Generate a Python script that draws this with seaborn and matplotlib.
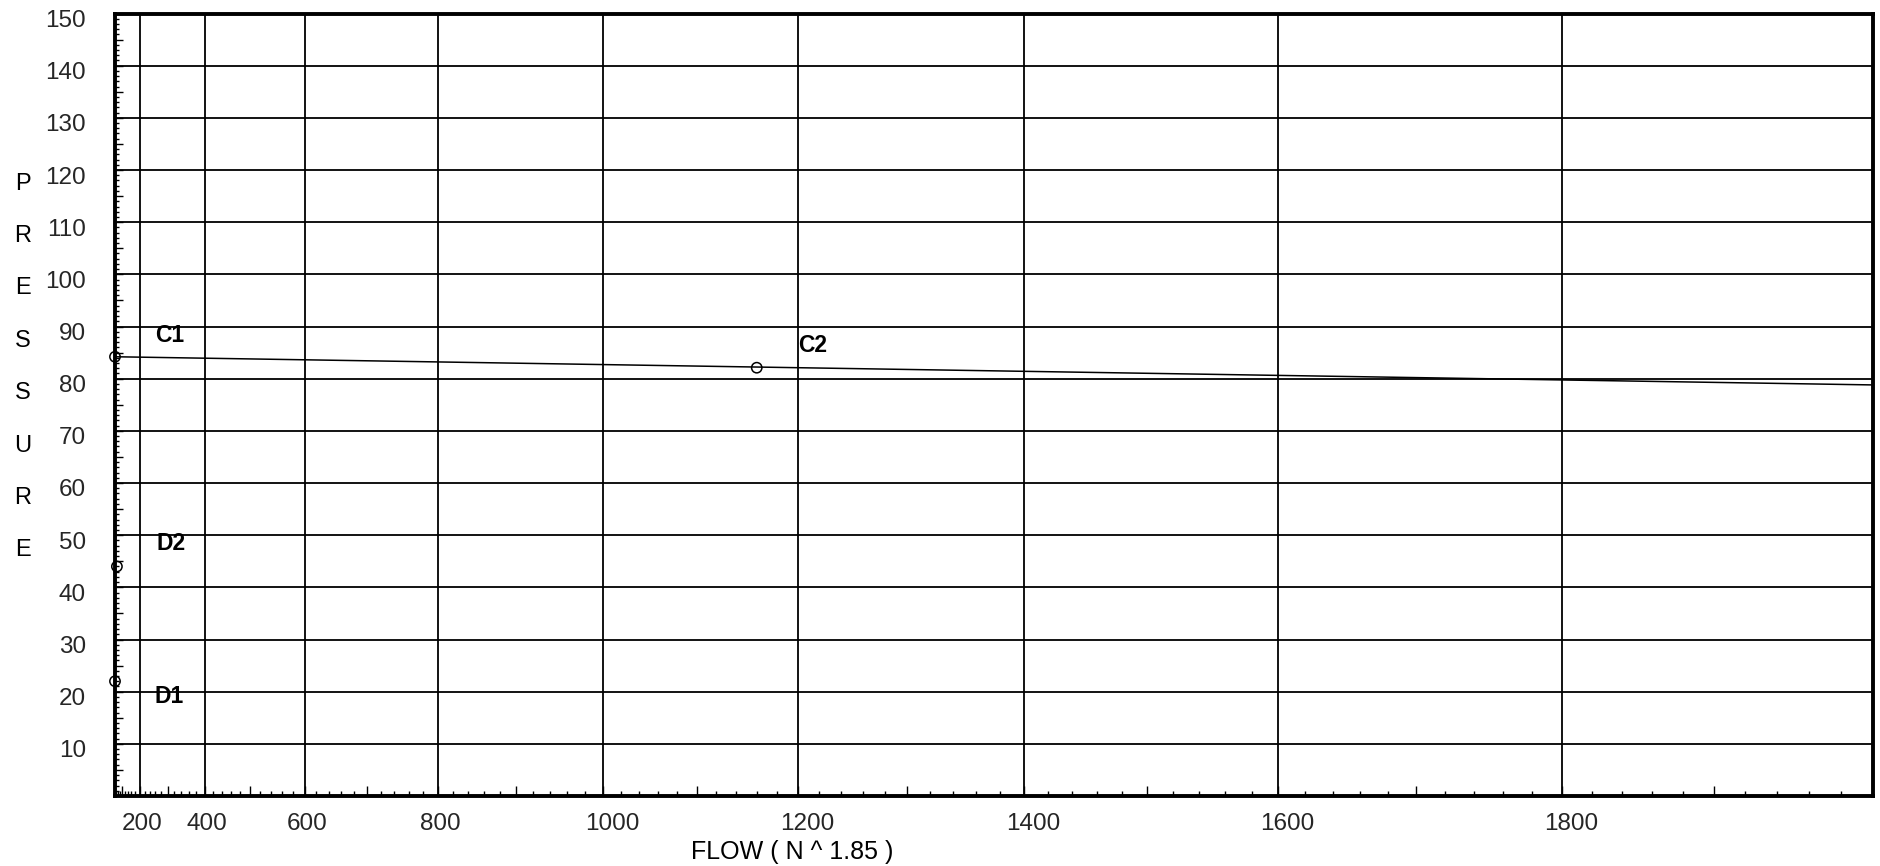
import numpy as np
import pandas as pd
import matplotlib
matplotlib.use("Agg")
import matplotlib.pyplot as plt
import matplotlib.transforms as mtrans
from matplotlib.ticker import FixedLocator, FuncFormatter
import seaborn as sns

# ---- data ----
point_labels = ["C1", "C2", "D1", "D2"]
point_flow = [0, 1160, 0, 50]
point_pressure = [84.2, 82.1, 22.0, 44.0]
line_flow = [0, 2000]
line_pressure = [84.2, 78.8]
x_tick_values = [200, 400, 600, 800, 1000, 1200, 1400, 1600, 1800]
y_tick_values = [10, 20, 30, 40, 50, 60, 70, 80, 90, 100, 110, 120, 130, 140, 150]
y_title = "PRESSURE"
x_title = "FLOW ( N ^ 1.85 )"

points = pd.DataFrame({"label": point_labels, "flow": point_flow, "pressure": point_pressure})
line = pd.DataFrame({"flow": line_flow, "pressure": line_pressure})

sns.set_theme(style="white")
plt.rcParams['font.family'] = ['Liberation Sans', 'DejaVu Sans']

fig = plt.figure(figsize=(18.81, 8.66), dpi=100)
ax = fig.add_axes([115/1881, 1-796/866, (1873-115)/1881, (796-13.5)/866])

EXP = 1.85
def fwd(x):
    x = np.asarray(x, dtype=float)
    return np.sign(x) * np.abs(x) ** EXP
def inv(y):
    y = np.asarray(y, dtype=float)
    return np.sign(y) * np.abs(y) ** (1.0 / EXP)

ax.set_xscale("function", functions=(fwd, inv))
ax.set_xlim(0, 2000)
ax.set_ylim(0, 150)

# grid lines
for xv in x_tick_values:
    ax.axvline(xv, color="black", lw=1.3, zorder=1)
for yv in y_tick_values[:-1]:
    ax.axhline(yv, color="black", lw=1.3, zorder=1)

# data
sns.lineplot(data=line, x="flow", y="pressure", ax=ax, color="black", lw=1.1, zorder=3)
sns.scatterplot(data=points, x="flow", y="pressure", ax=ax, marker="o", s=55,
                facecolor="none", edgecolor="black", linewidth=1.1, zorder=4, clip_on=False)

offsets = {"C1": (40, 21), "C2": (41, 22), "D1": (39, -15.5), "D2": (40, 23)}
for lab, fx, py in zip(point_labels, point_flow, point_pressure):
    dx, dy = offsets[lab]
    ax.annotate(lab, (fx, py), xytext=(dx, dy), textcoords="offset pixels",
                ha="left", va="center", fontsize=16.5, fontweight="bold", color="black")

# ticks
ax.xaxis.set_major_locator(FixedLocator(list(range(100, 2000, 100))))
ax.xaxis.set_minor_locator(FixedLocator([v for v in range(20, 2000, 20) if v % 100 != 0]))
ax.xaxis.set_major_formatter(FuncFormatter(lambda v, p: f"{int(round(v))}" if int(round(v)) in x_tick_values else ""))
ax.yaxis.set_major_locator(FixedLocator(list(range(5, 151, 5))))
ax.yaxis.set_minor_locator(FixedLocator([v for v in range(1, 150) if v % 5 != 0]))
ax.yaxis.set_major_formatter(FuncFormatter(lambda v, p: f"{int(round(v))}" if int(round(v)) in y_tick_values else ""))

ax.tick_params(axis="x", which="major", direction="in", length=7, width=1, color="black",
               labelsize=17.5, pad=12, bottom=True, top=False)
ax.tick_params(axis="x", which="minor", direction="in", length=3.5, width=1, color="black",
               bottom=True, top=False)
ax.tick_params(axis="y", which="major", direction="in", length=6, width=1, color="black",
               labelsize=17.5, pad=21, left=True, right=False)
ax.tick_params(axis="y", which="minor", direction="in", length=3, width=1, color="black",
               left=True, right=False)
ax.set_xlabel("")
ax.set_ylabel("")

yoff = mtrans.ScaledTranslation(0, -5/100, fig.dpi_scale_trans)
for lbl in ax.get_yticklabels():
    lbl.set_transform(lbl.get_transform() + yoff)
xoff = mtrans.ScaledTranslation(-18/100, 0, fig.dpi_scale_trans)
for lbl in ax.get_xticklabels():
    lbl.set_horizontalalignment("left")
    lbl.set_transform(lbl.get_transform() + xoff)

for sp in ax.spines.values():
    sp.set_visible(True)
    sp.set_color("black")
    sp.set_linewidth(2.8)
    sp.set_zorder(5)

# vertical stacked y title
letter_y = [184, 236, 288, 341, 393, 446, 498, 550]
for ch, yy in zip(y_title, letter_y):
    fig.text(23/1881, 1-yy/866, ch, ha="center", va="center", fontsize=17, color="black")

fig.text(792/1881, 1-852/866, x_title, ha="center", va="center", fontsize=18, color="black")

fig.savefig("out.png", dpi=100, facecolor="white")
